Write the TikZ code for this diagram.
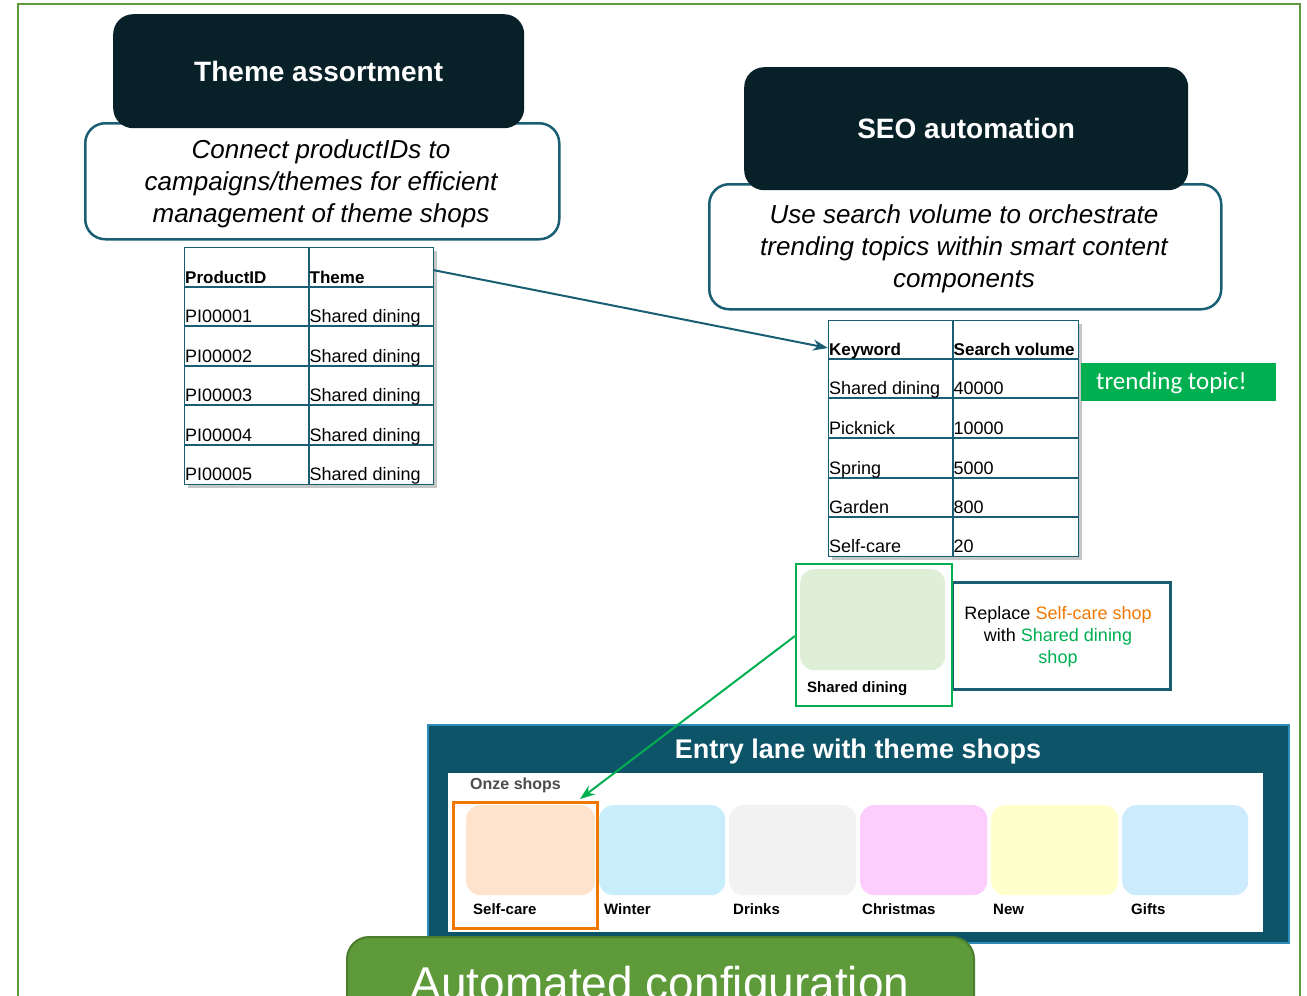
\documentclass[tikz,border=0pt]{standalone}
\usepackage{fontspec}
\setmainfont{Liberation Sans}
\newfontfamily\calib{Carlito}
\usetikzlibrary{shadows,arrows.meta}
\definecolor{frame}{HTML}{5E9A3A}
\definecolor{frameedge}{HTML}{4A7D2E}
\definecolor{ink}{HTML}{082129}
\definecolor{teal}{HTML}{195E73}
\definecolor{lane}{HTML}{0E5468}
\definecolor{laneedge}{HTML}{2E8CB8}
\definecolor{hot}{HTML}{00B050}
\definecolor{orng}{HTML}{F07800}
\definecolor{cardgreen}{HTML}{DFEED6}
\definecolor{tpeach}{HTML}{FFE3CC}
\definecolor{tsky}{HTML}{C8EEFC}
\definecolor{tgrey}{HTML}{F2F2F2}
\definecolor{tpink}{HTML}{FDCDFD}
\definecolor{tyellow}{HTML}{FFFFCC}
\definecolor{tblue}{HTML}{CCEBFD}
\tikzset{
  headbox/.style={fill=ink, draw=none, rounded corners=20pt, anchor=north west,
    text=white, font=\fontsize{28}{32}\selectfont\bfseries},
  descbox/.style={fill=white, draw=teal, line width=2.5pt, rounded corners=20pt, anchor=north west},
  desctext/.style={align=center, font=\fontsize{26}{32}\selectfont\itshape},
  tblbox/.style={draw=teal, line width=1.3pt, fill=white, anchor=north west,
    drop shadow={opacity=0.45, shadow xshift=3pt, shadow yshift=-3pt}},
  rule/.style={draw=teal, line width=1.2pt},
  cell/.style={anchor=base west, inner sep=0pt, font=\fontsize{18}{20}\selectfont},
  hcell/.style={cell, font=\fontsize{17}{20}\selectfont\bfseries},
  tile/.style={draw=none, rounded corners=14pt, anchor=north west},
  tilelabel/.style={anchor=base west, inner sep=0pt, font=\fontsize{15}{18}\selectfont\bfseries},
  link/.style={line width=2pt, -{Stealth[length=15pt,width=11pt]}},
}
\begin{document}
\begin{tikzpicture}[x=1pt,y=-1pt]
\useasboundingbox (0,0) rectangle (1307,996);
\clip (0,0) rectangle (1307,996);

% outer frame
\draw[frame, line width=2.5pt] (18,4) rectangle (1300,1020);

% ---- Theme assortment ----
\node[descbox, minimum width=474pt, minimum height=116pt] (tdesc) at (84,122) {};
\node[desctext] (tdesctxt) at (321,184)
  {Connect productIDs to\\campaigns/themes for efficient\\management of theme shops};
\node[headbox, minimum width=411pt, minimum height=114pt] (thead) at (113,14) {Theme assortment};

% product table
\node[tblbox, minimum width=249pt, minimum height=237pt, inner sep=0pt] (t1) at (184,247) {};
\draw[rule] (309,247) -- (309,484);
\foreach \y in {287,326,366,405,445} \draw[rule] (184,\y) -- (433,\y);
\node[hcell] (t1h1) at (185,283) {ProductID};
\node[hcell] (t1h2) at (309.5,283) {Theme};
\foreach \i/\y in {1/322,2/362,3/401,4/441,5/480}{
  \node[cell] (t1a\i) at (185,\y) {PI0000\i};
  \node[cell] (t1b\i) at (309.5,\y) {Shared dining};
}

% ---- SEO automation ----
\node[descbox, minimum width=512pt, minimum height=125pt] (sdesc) at (708,183) {};
\node[desctext] (sdesctxt) at (964,249)
  {Use search volume to orchestrate\\trending topics within smart content\\components};
\node[headbox, minimum width=444pt, minimum height=123pt] (shead) at (744,67) {SEO automation};

% keyword table
\node[tblbox, minimum width=250pt, minimum height=236pt, inner sep=0pt] (t2) at (828,320) {};
\draw[rule] (953,320) -- (953,556);
\foreach \y in {359,398,438,478,517} \draw[rule] (828,\y) -- (1078,\y);
\node[hcell] (t2h1) at (829,355) {Keyword};
\node[hcell] (t2h2) at (953.5,355) {Search volume};
\foreach \i/\k/\v/\y in {1/Shared dining/40000/394, 2/Picknick/10000/434, 3/Spring/5000/474,
                         4/Garden/800/513, 5/Self-care/20/552}{
  \node[cell] (t2a\i) at (829,\y) {\k};
  \node[cell] (t2b\i) at (953.5,\y) {\v};
}

% trending label
\node[fill=hot, anchor=north west, minimum width=195pt, minimum height=38pt, inner sep=0pt] (trend) at (1081,363) {};
\node[anchor=west, inner sep=0pt, text=white, font=\calib\fontsize{25}{27}\selectfont] (trendtxt)
  at (1096,383) {trending topic!};

% arrow between the tables
\coordinate (t1out) at (433,270);
\coordinate (t2in) at (828,348);
\draw[link, teal] (t1out) -- (t2in);

% ---- replacement card ----
\node[draw=teal, line width=2.5pt, fill=white, anchor=north west, minimum width=218pt, minimum height=107pt,
      inner sep=0pt] (repl) at (951,581) {};
\node[align=center, font=\fontsize{18}{22}\selectfont] (repltxt) at (1058,637)
  {Replace \textcolor{orng}{Self-care shop}\\with \textcolor{hot}{Shared dining}\\\textcolor{hot}{shop}};
\node[draw=hot, line width=2pt, fill=white, anchor=north west, minimum width=156pt, minimum height=142pt,
      inner sep=0pt] (card) at (795,563) {};
\node[tile, fill=cardgreen, minimum width=145pt, minimum height=101pt] (cardimg) at (800,569) {};
\node[tilelabel] (cardlbl) at (807,692) {Shared dining};

% ---- entry lane ----
\node[fill=lane, draw=laneedge, line width=2pt, anchor=north west, minimum width=861pt, minimum height=218pt,
      inner sep=0pt] (lanebox) at (427,724) {};
\node[text=white, font=\fontsize{27}{32}\selectfont\bfseries] (lanetitle) at (858,752) {Entry lane with theme shops};
\node[fill=white, anchor=north west, minimum width=815pt, minimum height=159pt, inner sep=0pt] (panel) at (448,773) {};
\node[anchor=base west, inner sep=0pt, text=black!70, font=\fontsize{16}{19}\selectfont\bfseries] (onze) at (470,789) {Onze shops};

\node[tile, fill=tpeach,  minimum width=129pt, minimum height=90pt] (s1) at (466,805) {};
\node[tile, fill=tsky,    minimum width=126pt, minimum height=90pt] (s2) at (599,805) {};
\node[tile, fill=tgrey,   minimum width=127pt, minimum height=90pt] (s3) at (729,805) {};
\node[tile, fill=tpink,   minimum width=127pt, minimum height=90pt] (s4) at (860,805) {};
\node[tile, fill=tyellow, minimum width=127pt, minimum height=90pt] (s5) at (991,805) {};
\node[tile, fill=tblue,   minimum width=126pt, minimum height=90pt] (s6) at (1122,805) {};
\node[tilelabel] (l1) at (473,914) {Self-care};
\node[tilelabel] (l2) at (604,914) {Winter};
\node[tilelabel] (l3) at (733,914) {Drinks};
\node[tilelabel] (l4) at (862,914) {Christmas};
\node[tilelabel] (l5) at (993,914) {New};
\node[tilelabel] (l6) at (1131,914) {Gifts};

\node[draw=orng, line width=3pt, anchor=north west, minimum width=144pt, minimum height=126pt, inner sep=0pt]
  (pick) at (452,801) {};

% arrow from the card to the shop it replaces
\coordinate (cardout) at (795,636);
\coordinate (pickin) at (580,799);
\draw[link, hot] (cardout) -- (pickin);

% ---- automated configuration ----
\node[fill=frame, draw=frameedge, line width=2pt, rounded corners=22pt, anchor=north west,
      minimum width=627pt, minimum height=120pt, inner sep=0pt] (auto) at (346,936) {};
\node[anchor=base, inner sep=0pt, text=white, font=\fontsize{46}{52}\selectfont] (autotxt) at (660,999)
  {Automated configuration};
\end{tikzpicture}
\end{document}
